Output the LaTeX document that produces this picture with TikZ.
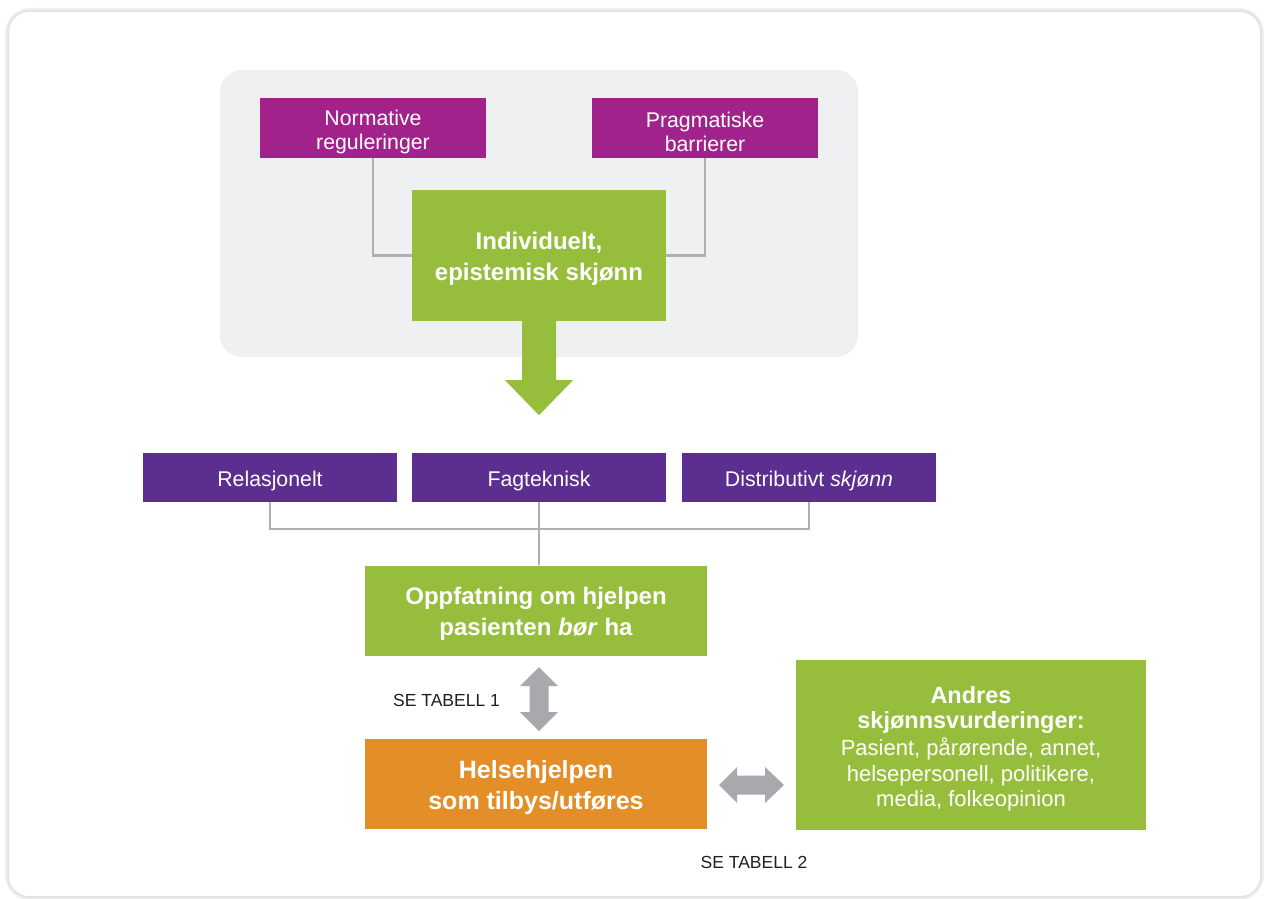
\documentclass[tikz,border=0pt]{standalone}
\usepackage{fontspec}
\setmainfont{Liberation Sans}
\usetikzlibrary{calc}
\definecolor{magpurple}{HTML}{A1228B}
\definecolor{darkpurple}{HTML}{5B2E8F}
\definecolor{leafgreen}{HTML}{96BE3C}
\definecolor{orangebox}{HTML}{E38E27}
\definecolor{arrowgray}{HTML}{A8A9AD}
\definecolor{linegray}{HTML}{B0B0B2}
\definecolor{panelgray}{HTML}{EFF0F2}
\definecolor{textdark}{HTML}{231F20}
\definecolor{shadowgray}{HTML}{E4E4E4}
\tikzset{
  box/.style={draw=none, inner sep=0pt},
  boxtext/.style={inner sep=0pt, align=center, text=white},
  regtext/.style={font=\fontsize{21.3}{24}\selectfont},
  boldtext/.style={font=\fontsize{24}{31}\selectfont\bfseries},
  conn/.style={draw=linegray, line width=2.6pt},
  label/.style={text=textdark, font=\fontsize{17.5}{20}\selectfont, inner sep=0pt}
}
\begin{document}
\begin{tikzpicture}[x=1pt,y=-1pt]
\useasboundingbox (0,0) rectangle (1264,899);
\fill[white] (0,0) rectangle (1264,899);
% card with shadow
\draw[shadowgray!60, line width=6pt, rounded corners=22pt] (8,11) rectangle (1261,897);
\draw[shadowgray, line width=2pt, rounded corners=21pt, fill=white] (8,11) rectangle (1261,897);
% panel
\fill[panelgray, rounded corners=22pt] (220,70) rectangle (858,357);
% top boxes
\node[box, fill=magpurple, minimum width=226pt, minimum height=60pt] (norm) at (373,128) {};
\node[boxtext, regtext] (normtxt) at ($(norm.center)+(0,4)$) {Normative\\reguleringer};
\node[box, fill=magpurple, minimum width=226pt, minimum height=60pt] (prag) at (705,128) {};
\node[boxtext, regtext] (pragtxt) at ($(prag.center)+(0,4)$) {Pragmatiske\\barrierer};
\node[box, fill=leafgreen, minimum width=254pt, minimum height=131pt] (indiv) at (539,255.5) {};
\node[boxtext, boldtext] (indivtxt) at ($(indiv.center)+(0,3.5)$) {Individuelt,\\epistemisk skjønn};
\draw[conn] (norm.south) |- (indiv.west);
\draw[conn] (prag.south) |- (indiv.east);
% big arrow
\fill[leafgreen] ($(indiv.south)+(-17,-0.5)$) -- ++(0,59.5) -- ++(-17,0) -- ($(indiv.south)+(0,94)$) -- ++(34,-35) -- ++(-17,0) -- ++(0,-59.5) -- cycle;
% purple row
\node[box, fill=darkpurple, minimum width=254pt, minimum height=49pt] (rel) at (270,477.5) {};
\node[boxtext, regtext] (reltxt) at ($(rel.center)+(0,3)$) {Relasjonelt};
\node[box, fill=darkpurple, minimum width=254pt, minimum height=49pt] (fag) at (539,477.5) {};
\node[boxtext, regtext] (fagtxt) at ($(fag.center)+(0,3)$) {Fagteknisk};
\node[box, fill=darkpurple, minimum width=254pt, minimum height=49pt] (dist) at (809,477.5) {};
\node[boxtext, regtext] (disttxt) at ($(dist.center)+(0,3)$) {Distributivt \textit{skjønn}};
% oppfatning
\node[box, fill=leafgreen, minimum width=342pt, minimum height=90pt] (opp) at (536,610.5) {};
\node[boxtext, boldtext] (opptxt) at ($(opp.center)+(0,3.5)$) {Oppfatning om hjelpen\\pasienten \textit{bør} ha};
\coordinate (junc) at (539,529);
\draw[conn] (rel.south) |- (junc) -| (dist.south);
\draw[conn] (fag.south) -- (junc) -- (junc |- opp.north);
% orange
\node[box, fill=orangebox, minimum width=342pt, minimum height=90pt] (helse) at (536,784) {};
\node[boxtext, font=\fontsize{25}{31}\selectfont\bfseries] (helsetxt) at ($(helse.center)+(0,4)$) {Helsehjelpen\\som tilbys/utføres};
% andres
\node[box, fill=leafgreen, minimum width=350pt, minimum height=170pt] (andres) at (971,745) {};
\node[boxtext, font=\fontsize{23.5}{25.5}\selectfont\bfseries] (andrestxt) at ($(andres.center)+(0,4)$) {Andres\\skjønnsvurderinger:\\[1.5pt]\fontsize{22}{25.5}\selectfont\mdseries Pasient, pårørende, annet,\\\fontsize{22}{25.5}\selectfont\mdseries helsepersonell, politikere,\\\fontsize{22}{25.5}\selectfont\mdseries media, folkeopinion};
% vertical double arrow
\coordinate (vt) at (539,667);
\fill[arrowgray] (vt) -- ++(19,19) -- ++(-9.5,0) -- ++(0,26) -- ++(9.5,0) -- ++(-19,19) -- ++(-19,-19) -- ++(9.5,0) -- ++(0,-26) -- ++(-9.5,0) -- cycle;
% horizontal double arrow
\coordinate (hl) at (719,785);
\fill[arrowgray] (hl) -- ++(18,-18) -- ++(0,8.5) -- ++(28,0) -- ++(0,-8.5) -- ++(19,18) -- ++(-19,18) -- ++(0,-8.5) -- ++(-28,0) -- ++(0,8.5) -- cycle;
% labels
\node[label, anchor=west] (t1) at (393,700) {SE TABELL 1};
\node[label] (t2) at (754,862) {SE TABELL 2};
\end{tikzpicture}
\end{document}
